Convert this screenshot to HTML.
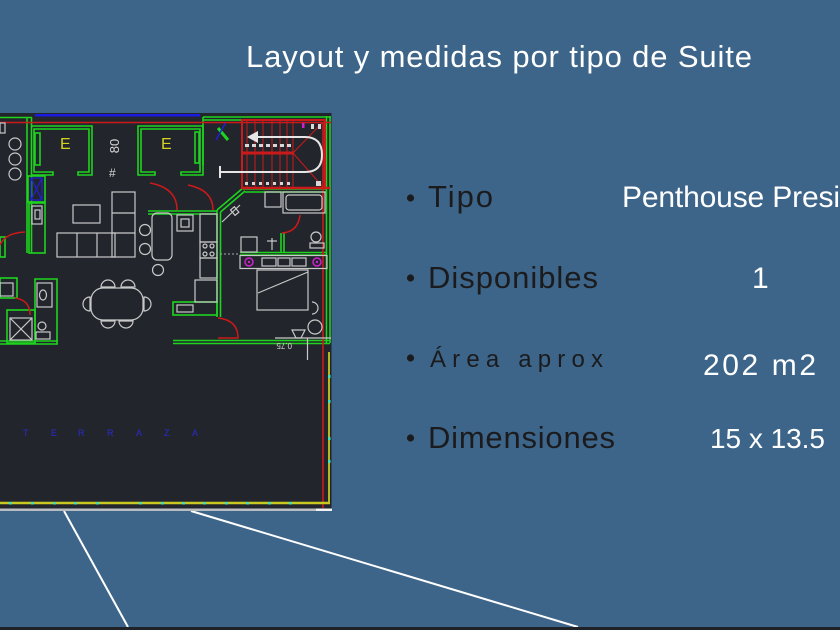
<!DOCTYPE html>
<html>
<head>
<meta charset="utf-8">
<style>
  html, body { margin:0; padding:0; }
  body { width:840px; height:630px; overflow:hidden; background:#3d6589; }
  svg { display:block; }
  text { font-family: "Liberation Sans", "DejaVu Sans", sans-serif; }
</style>
</head>
<body>
<svg width="840" height="630" viewBox="0 0 840 630" xmlns="http://www.w3.org/2000/svg">
  <rect x="0" y="0" width="840" height="630" fill="#3d6589"/>

  <!-- connector lines -->
  <line x1="64" y1="511" x2="128" y2="627" stroke="#ffffff" stroke-width="2"/>
  <line x1="191" y1="511" x2="578" y2="627" stroke="#ffffff" stroke-width="2"/>
  <!-- bottom dark bar -->
  <rect x="0" y="627" width="840" height="3" fill="#1f2226"/>

  <!-- title -->
  <text x="246" y="67" font-size="31" fill="#ffffff" textLength="506">Layout y medidas por tipo de Suite</text>

  <!-- bullets & labels -->
  <g fill="#1b1b1d">
    <circle cx="410.5" cy="198" r="3.6"/>
    <circle cx="410.5" cy="278" r="3.6"/>
    <circle cx="410.5" cy="358" r="3.6"/>
    <circle cx="410.5" cy="438" r="3.6"/>
    <text x="428" y="207" font-size="31" textLength="65">Tipo</text>
    <text x="428" y="288" font-size="31" textLength="170">Disponibles</text>
    <text x="430" y="367" font-size="24" textLength="173">Área aprox</text>
    <text x="428" y="448" font-size="31" textLength="187">Dimensiones</text>
  </g>
  <g fill="#ffffff">
    <text x="622" y="207" font-size="30" textLength="218">Penthouse Presi</text>
    <text x="842" y="207" font-size="30">dencial</text>
    <text x="752" y="288" font-size="30">1</text>
    <text x="703" y="375" font-size="30" textLength="113">202 m2</text>
    <text x="710" y="448" font-size="28" textLength="115">15 x 13.5</text>
  </g>

  <!-- ================= FLOOR PLAN ================= -->
  <rect x="0" y="113" width="331.5" height="396" fill="#22252c"/>
  <rect x="0" y="508.5" width="332" height="2.5" fill="#b9bdc2"/>
  <rect x="316" y="508.5" width="16" height="2.5" fill="#f2f2f2"/>

  <!-- top band -->
  <rect x="35" y="114" width="165" height="2.5" fill="#1c1ce0"/>
  <g stroke="#1ed41e" stroke-width="1.6" fill="none">
    <line x1="0" y1="117.5" x2="32" y2="117.5"/>
    <line x1="203" y1="117" x2="331" y2="117"/>
    <line x1="203" y1="120" x2="242" y2="120"/>
    <!-- left wall -->
    <line x1="27" y1="117" x2="27" y2="253"/>
    <line x1="31.5" y1="117" x2="31.5" y2="253"/>
    <!-- room 1 -->
    <path d="M31,126 H92 V175 H78 V172 H89 V129 H34 V172 H53 V175 H31"/>
    <rect x="35" y="133" width="5" height="32"/>
    <!-- room 2 -->
    <path d="M138,126 H203 V175 H181 V172 H200 V129 H141 V172 H155 V175 H138 Z"/>
    <rect x="195" y="132" width="4" height="31"/>
    <line x1="203" y1="117" x2="203" y2="165"/>
    <!-- blue X box surround -->
    <rect x="28" y="176" width="17" height="26"/>
    <rect x="29" y="203" width="16" height="50"/>
    <rect x="0" y="237" width="5" height="20"/>
    <!-- kitchen wall -->
    <line x1="148" y1="211" x2="217" y2="211"/>
    <line x1="148" y1="214" x2="217" y2="214"/>
    <line x1="217" y1="210" x2="217" y2="317"/>
    <line x1="220.5" y1="212" x2="220.5" y2="317"/>
    <line x1="217" y1="210" x2="243" y2="188"/>
    <line x1="220.5" y1="212" x2="245" y2="191"/>
    <rect x="173" y="302" width="44" height="13"/>
    <!-- right wall -->
    <line x1="326.5" y1="116" x2="326.5" y2="343"/>
    <line x1="330" y1="116" x2="330" y2="343"/>
    <!-- bedroom top -->
    <line x1="243" y1="189" x2="327" y2="189"/>
    <line x1="245" y1="192" x2="327" y2="192"/>
    <line x1="281" y1="233" x2="281" y2="253"/>
    <line x1="284" y1="233" x2="284" y2="253"/>
    <line x1="240" y1="252.5" x2="327" y2="252.5"/>
    <line x1="240" y1="255" x2="327" y2="255"/>
    <!-- bottom walls -->
    <line x1="0" y1="341" x2="58" y2="341"/>
    <line x1="0" y1="344" x2="58" y2="344"/>
    <line x1="173" y1="340.5" x2="330" y2="340.5"/>
    <line x1="173" y1="343.5" x2="330" y2="343.5"/>
    <!-- lower left -->
    <path d="M35,344 V279 H57 V344"/>
    <rect x="7" y="310" width="28" height="33"/>
    <rect x="0" y="278" width="17" height="20"/>
  </g>
  <line x1="218" y1="128" x2="228" y2="140" stroke="#1ed41e" stroke-width="3"/>
  <line x1="226" y1="122" x2="216" y2="140" stroke="#2020d0" stroke-width="1.5"/>

  <!-- red lines -->
  <g stroke="#cc1a1a" fill="none">
    <line x1="0" y1="122.5" x2="331" y2="122.5" stroke-width="1.6"/>
    <line x1="323" y1="122" x2="323" y2="508" stroke-width="1.6"/>
    <rect x="242" y="120" width="83" height="68" stroke-width="2"/>
    <g stroke-width="1">
      <line x1="247" y1="120" x2="247" y2="188"/>
      <line x1="255" y1="120" x2="255" y2="188"/>
      <line x1="263" y1="120" x2="263" y2="188"/>
      <line x1="272" y1="120" x2="272" y2="188"/>
      <line x1="280" y1="120" x2="280" y2="188"/>
      <line x1="287" y1="120" x2="287" y2="188"/>
      <line x1="293" y1="120" x2="293" y2="188"/>
      <line x1="293" y1="153" x2="323" y2="122"/>
      <line x1="293" y1="153" x2="323" y2="187"/>
    </g>
    <line x1="242" y1="153" x2="293" y2="153" stroke-width="3"/>
    <line x1="242" y1="188" x2="330" y2="188" stroke-width="2.5"/>
    <g stroke-width="1.5">
      <path d="M150,183 Q177,188 177,210"/>
      <path d="M188,185 Q213,190 213,210"/>
      <path d="M300,215 Q298,232 282,233"/>
      <path d="M218,318 Q238,320 238,338 H218"/>
      <path d="M0,245 Q5,233 25,232"/>
      <path d="M15,298 Q30,300 30,315"/>
    </g>
  </g>

  <!-- stairs white arrow -->
  <g stroke="#e6e6e6" fill="none" stroke-width="2">
    <path d="M252,137 H305 Q322,137 322,155 Q322,172 305,172 H220"/>
    <line x1="220" y1="166" x2="220" y2="178"/>
  </g>
  <polygon points="247,137 258,131 258,143" fill="#e6e6e6"/>
  <g fill="#d8d8d8">
    <rect x="245" y="144" width="4" height="3"/><rect x="252" y="144" width="4" height="3"/>
    <rect x="259" y="144" width="4" height="3"/><rect x="266" y="144" width="4" height="3"/>
    <rect x="273" y="144" width="4" height="3"/><rect x="280" y="144" width="4" height="3"/>
    <rect x="287" y="144" width="4" height="3"/>
    <rect x="245" y="182" width="3" height="3"/><rect x="252" y="182" width="3" height="3"/>
    <rect x="259" y="182" width="3" height="3"/><rect x="266" y="182" width="3" height="3"/>
    <rect x="273" y="182" width="3" height="3"/><rect x="280" y="182" width="3" height="3"/>
    <rect x="287" y="182" width="3" height="3"/>
    <rect x="316" y="181" width="5" height="5"/>
    <rect x="311" y="124" width="3" height="5"/><rect x="318" y="124" width="3" height="5"/>
  </g>
  <rect x="302" y="123" width="2.5" height="5" fill="#d020d0"/>

  <!-- white furniture -->
  <g stroke="#c9c9c9" stroke-width="1.2" fill="none">
    <rect x="0" y="123" width="5" height="10"/>
    <circle cx="15" cy="144" r="6"/>
    <circle cx="15" cy="159" r="6"/>
    <circle cx="15" cy="174" r="6"/>
    <rect x="32" y="206" width="10" height="18"/>
    <rect x="35" y="210" width="5" height="9"/>
    <!-- sofa -->
    <rect x="57" y="233" width="58" height="24"/>
    <line x1="77" y1="233" x2="77" y2="257"/>
    <line x1="97" y1="233" x2="97" y2="257"/>
    <rect x="112" y="192" width="23" height="65"/>
    <line x1="112" y1="213" x2="135" y2="213"/>
    <line x1="112" y1="233" x2="135" y2="233"/>
    <rect x="73" y="205" width="27" height="18"/>
    <!-- stools, island -->
    <circle cx="145" cy="230" r="5.5"/>
    <circle cx="145" cy="249" r="5.5"/>
    <circle cx="158" cy="270" r="5.5"/>
    <rect x="152" y="213" width="20" height="47" rx="5"/>
    <!-- kitchen -->
    <rect x="177" y="215" width="16" height="16"/>
    <rect x="181" y="219" width="8" height="8"/>
    <rect x="200" y="214" width="17" height="28"/>
    <rect x="200" y="242" width="17" height="16"/>
    <circle cx="205" cy="246" r="2"/><circle cx="212" cy="246" r="2"/>
    <circle cx="205" cy="254" r="2"/><circle cx="212" cy="254" r="2"/>
    <rect x="200" y="258" width="17" height="20"/>
    <rect x="195" y="280" width="22" height="22"/>
    <rect x="177" y="305" width="16" height="7"/>
    <!-- dining -->
    <rect x="91" y="288" width="52" height="32" rx="12"/>
    <path d="M101,287 A7,7 0 0 1 115,287 Z"/>
    <path d="M121,287 A7,7 0 0 1 135,287 Z"/>
    <path d="M101,321 A7,7 0 0 0 115,321 Z"/>
    <path d="M119,321 A7,7 0 0 0 133,321 Z"/>
    <path d="M90,297 A7,7 0 0 0 90,311 Z"/>
    <path d="M144,297 A7,7 0 0 1 144,311 Z"/>
    <!-- lower-left bath -->
    <rect x="37" y="283" width="15" height="24"/>
    <ellipse cx="43" cy="295" rx="3.5" ry="5"/>
    <circle cx="42" cy="326" r="4"/>
    <rect x="36" y="332" width="14" height="7"/>
    <rect x="10" y="318" width="22" height="22"/>
    <line x1="10" y1="318" x2="32" y2="340"/>
    <line x1="32" y1="318" x2="10" y2="340"/>
    <rect x="0" y="283" width="13" height="13"/>
    <!-- bath top-right -->
    <rect x="283" y="192" width="42" height="21"/>
    <rect x="286" y="195" width="36" height="15" rx="3"/>
    <rect x="265" y="192" width="16" height="15"/>
    <line x1="222" y1="222" x2="240" y2="205"/>
    <rect x="232" y="208" width="5" height="7" transform="rotate(-40 234 211)"/>
    <circle cx="316" cy="237" r="5"/>
    <rect x="310" y="243" width="14" height="5"/>
    <rect x="241" y="237" width="16" height="15"/>
    <line x1="272" y1="238" x2="272" y2="250"/>
    <line x1="267" y1="241" x2="277" y2="241"/>
    <!-- bedroom -->
    <rect x="240" y="255.5" width="87" height="13"/>
    <rect x="262" y="258" width="14" height="8"/>
    <rect x="278" y="258" width="12" height="8"/>
    <rect x="292" y="258" width="14" height="8"/>
    <rect x="257" y="270" width="51" height="40"/>
    <line x1="258" y1="293" x2="308" y2="272"/>
    <!-- bottom right -->
    <circle cx="315" cy="327" r="7"/>
    <path d="M312,302 A6,6 0 0 1 312,314"/>
    <path d="M292,330 H305 L301,338 H296 Z"/>
    <line x1="275" y1="338" x2="331" y2="338"/>
    <line x1="307.5" y1="338" x2="307.5" y2="360"/>
  </g>
  <line x1="220" y1="254" x2="240" y2="254" stroke="#aaaaaa" stroke-width="1" stroke-dasharray="2,2"/>

  <!-- magenta -->
  <g stroke="#d020d0" stroke-width="1.5" fill="none">
    <circle cx="249" cy="262" r="4"/>
    <circle cx="317" cy="262" r="4"/>
  </g>
  <circle cx="249" cy="262" r="1.2" fill="#d020d0"/>
  <circle cx="317" cy="262" r="1.2" fill="#d020d0"/>

  <!-- blue X box -->
  <g stroke="#2020d0" stroke-width="1.3" fill="none">
    <rect x="31" y="178" width="11" height="22"/>
    <line x1="31" y1="178" x2="42" y2="200"/>
    <line x1="42" y1="178" x2="31" y2="200"/>
  </g>

  <!-- labels in plan -->
  <text x="60" y="149" font-size="16" fill="#d4d420">E</text>
  <text x="161" y="149" font-size="16" fill="#d4d420">E</text>
  <text transform="translate(119,146) rotate(-90)" font-size="13" fill="#d8d8d8" text-anchor="middle">80</text>
  <text x="109" y="177" font-size="12" fill="#d8d8d8">#</text>
  <text transform="translate(292,343) rotate(180)" font-size="8" fill="#d8d8d8">0.75</text>

  <!-- terrace -->
  <g font-size="9" fill="#2a2ad0">
    <text x="23" y="436">T</text>
    <text x="51" y="436">E</text>
    <text x="78" y="436">R</text>
    <text x="107" y="436">R</text>
    <text x="136" y="436">A</text>
    <text x="164" y="436">Z</text>
    <text x="192" y="436">A</text>
  </g>
  <line x1="0" y1="503" x2="330" y2="503" stroke="#c8c820" stroke-width="2.5"/>
  <line x1="329" y1="352" x2="329" y2="504" stroke="#c8c820" stroke-width="1.8"/>
  <g fill="#3fe0c0">
    <rect x="9" y="502" width="3" height="2.5"/><rect x="31" y="502" width="3" height="2.5"/>
    <rect x="53" y="502" width="3" height="2.5"/><rect x="74" y="502" width="3" height="2.5"/>
    <rect x="96" y="502" width="3" height="2.5"/><rect x="139" y="502" width="3" height="2.5"/>
    <rect x="161" y="502" width="3" height="2.5"/><rect x="182" y="502" width="3" height="2.5"/>
    <rect x="203" y="502" width="3" height="2.5"/><rect x="225" y="502" width="3" height="2.5"/>
    <rect x="246" y="502" width="3" height="2.5"/><rect x="268" y="502" width="3" height="2.5"/>
    <rect x="289" y="502" width="3" height="2.5"/>
    <rect x="328" y="375" width="2.5" height="3"/><rect x="328" y="400" width="2.5" height="3"/>
    <rect x="328" y="437" width="2.5" height="3"/><rect x="328" y="460" width="2.5" height="3"/>
  </g>
</svg>
</body>
</html>
